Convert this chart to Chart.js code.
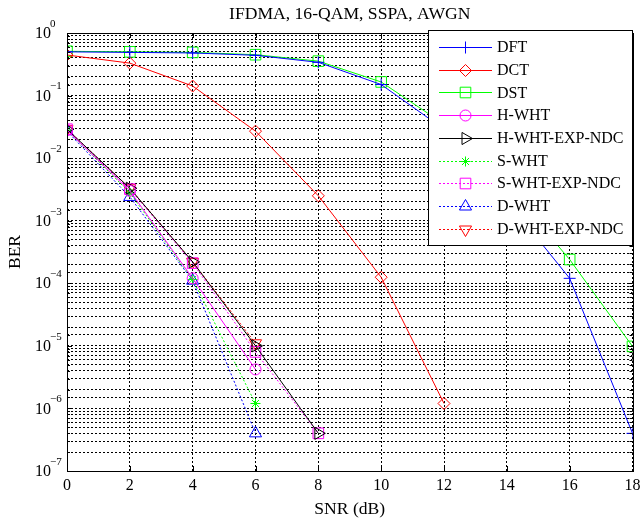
<!DOCTYPE html>
<html><head><meta charset="utf-8">
<script src="https://cdn.jsdelivr.net/npm/chart.js@4.4.1/dist/chart.umd.min.js"></script>
<style>html,body{margin:0;padding:0;background:#fff;}canvas{display:block;}</style>
</head><body>
<canvas id="c" width="641" height="521"></canvas>
<script>
// ---- data ----
const snr = [0, 2, 4, 6, 8, 10, 12, 14, 16, 18];
const berDFT        = [0.50, 0.49, 0.48, 0.44, 0.34, 0.15, 0.029, 2.1e-3, 1.2e-4, 4.0e-7];
const berDCT        = [0.445, 0.33, 0.142, 0.027, 2.5e-3, 1.25e-4, 1.2e-6, null, null, null];
const berDST        = [0.51, 0.50, 0.49, 0.45, 0.355, 0.165, 0.035, 3.6e-3, 2.4e-4, 9.8e-6];
const berHWHT       = [0.028, 3.0e-3, 1.2e-4, 4.2e-6, null, null, null, null, null, null];
const berHWHTEXPNDC = [0.029, 3.3e-3, 2.2e-4, 1.0e-5, 4.0e-7, null, null, null, null, null];
const berSWHT       = [0.028, 2.8e-3, 1.15e-4, 1.2e-6, null, null, null, null, null, null];
const berSWHTEXPNDC = [0.029, 3.2e-3, 2.1e-4, 8.0e-6, 4.0e-7, null, null, null, null, null];
const berDWHT       = [0.027, 2.4e-3, 1.1e-4, 4.0e-7, null, null, null, null, null, null];
const berDWHTEXPNDC = [0.029, 3.3e-3, 2.2e-4, 1.1e-5, null, null, null, null, null, null];
const seriesNames = ['DFT','DCT','DST','H-WHT','H-WHT-EXP-NDC','S-WHT','S-WHT-EXP-NDC','D-WHT','D-WHT-EXP-NDC'];
const xTickValues = [0, 2, 4, 6, 8, 10, 12, 14, 16, 18];
const yDecadeExponents = [0, -1, -2, -3, -4, -5, -6, -7];
const titleText = 'IFDMA, 16-QAM, SSPA, AWGN';
const xTitleText = 'SNR (dB)';
const yTitleText = 'BER';

// ---- styles ----
const seriesValues = [berDFT, berDCT, berDST, berHWHT, berHWHTEXPNDC, berSWHT, berSWHTEXPNDC, berDWHT, berDWHTEXPNDC];
const styles = [
  {c:'#0000ff', dash:[],    ps:'cross',    r:6,   rot:0},
  {c:'#ff0000', dash:[],    ps:'rectRot',  r:6,   rot:0},
  {c:'#00ff00', dash:[],    ps:'rect',     r:7.5, rot:0},
  {c:'#ff00ff', dash:[],    ps:'circle',   r:5.5, rot:0},
  {c:'#000000', dash:[],    ps:'triangle', r:7,   rot:90},
  {c:'#00ff00', dash:[2,2], ps:'star',     r:5,   rot:0},
  {c:'#ff00ff', dash:[2,2], ps:'rect',     r:7.5, rot:0},
  {c:'#0000ff', dash:[2,2], ps:'triangle', r:7,   rot:0},
  {c:'#ff0000', dash:[2,2], ps:'triangle', r:7,   rot:180}
];
const FONT = "'Liberation Serif', 'Times New Roman', serif";

const datasets = seriesNames.map((name, i) => ({
  label: name,
  data: snr.map((x, j) => ({x: x, y: seriesValues[i][j]})).filter(p => p.y !== null),
  borderColor: styles[i].c,
  backgroundColor: 'rgba(0,0,0,0)',
  borderWidth: 1,
  borderDash: styles[i].dash,
  pointStyle: styles[i].ps,
  pointRadius: styles[i].r,
  pointRotation: styles[i].rot,
  pointBorderColor: styles[i].c,
  pointBackgroundColor: 'rgba(0,0,0,0)',
  pointBorderWidth: 1,
  tension: 0,
  fill: false
}));

function drawMarker(ctx, st, x, y) {
  ctx.save();
  ctx.setLineDash([]);
  ctx.strokeStyle = st.c;
  ctx.fillStyle = 'rgba(0,0,0,0)';
  ctx.lineWidth = 1;
  if (Chart.helpers && Chart.helpers.drawPoint) {
    Chart.helpers.drawPoint(ctx, {pointStyle: st.ps, radius: st.r, rotation: st.rot, borderWidth: 1}, x, y);
  }
  ctx.restore();
}

const decor = {
  id: 'decor',
  afterDraw(chart) {
    const ctx = chart.ctx;
    const a = chart.chartArea;
    const xs = chart.scales.x, ys = chart.scales.y;
    ctx.save();
    // box
    ctx.setLineDash([]);
    ctx.strokeStyle = '#000';
    ctx.lineWidth = 1;
    ctx.strokeRect(Math.round(a.left) + 0.5, Math.round(a.top) + 0.5, Math.round(a.right - a.left), Math.round(a.bottom - a.top));
    // tick marks
    ctx.beginPath();
    xTickValues.forEach(v => {
      const px = Math.round(xs.getPixelForValue(v)) + 0.5;
      ctx.moveTo(px, a.bottom); ctx.lineTo(px, a.bottom - 5);
      ctx.moveTo(px, a.top); ctx.lineTo(px, a.top + 5);
    });
    ys.ticks.forEach(t => {
      const py = Math.round(ys.getPixelForValue(t.value)) + 0.5;
      const e = Math.log10(t.value);
      const len = Math.abs(e - Math.round(e)) < 1e-9 ? 5 : 3;
      ctx.moveTo(a.left, py); ctx.lineTo(a.left + len, py);
      ctx.moveTo(a.right, py); ctx.lineTo(a.right - len, py);
    });
    ctx.stroke();
    // y tick labels 10^k
    ctx.fillStyle = '#000';
    ctx.textBaseline = 'middle';
    ctx.textAlign = 'left';
    yDecadeExponents.forEach(k => {
      const py = ys.getPixelForValue(Math.pow(10, k));
      ctx.font = '16px ' + FONT;
      const bx = 35;
      ctx.fillText('10', bx, py + 1);
      const w = ctx.measureText('10').width;
      ctx.font = '11px ' + FONT;
      ctx.fillText(k === 0 ? '0' : '\u2212' + (-k), bx + w - 1, py - 9);
    });
    // title
    ctx.font = '17.6px ' + FONT;
    ctx.textAlign = 'center';
    ctx.fillText(titleText, (a.left + a.right) / 2, 14);
    // legend
    const lx0 = 428, ly0 = 30, lx1 = 632, ly1 = 245;
    ctx.fillStyle = '#fff';
    ctx.fillRect(lx0, ly0, lx1 - lx0, ly1 - ly0);
    ctx.strokeStyle = '#000';
    ctx.lineWidth = 1;
    ctx.strokeRect(lx0 + 0.5, ly0 + 0.5, lx1 - lx0, ly1 - ly0);
    seriesNames.forEach((name, i) => {
      const st = styles[i];
      const y = 47 + i * 22.7;
      ctx.save();
      ctx.strokeStyle = st.c;
      ctx.lineWidth = 1;
      ctx.setLineDash(st.dash);
      ctx.beginPath();
      ctx.moveTo(439, Math.round(y) + 0.5);
      ctx.lineTo(492, Math.round(y) + 0.5);
      ctx.stroke();
      ctx.restore();
      drawMarker(ctx, st, 465.5, Math.round(y) + 0.5);
      ctx.fillStyle = '#000';
      ctx.font = '16px ' + FONT;
      ctx.textAlign = 'left';
      ctx.textBaseline = 'middle';
      ctx.fillText(name, 497, y + 1);
    });
    ctx.restore();
  }
};

new Chart(document.getElementById('c'), {
  type: 'line',
  data: { datasets: datasets },
  plugins: [decor],
  options: {
    responsive: false,
    animation: false,
    devicePixelRatio: 1,
    layout: { padding: { top: 33, right: 8, left: 0, bottom: 0 } },
    plugins: { legend: { display: false }, title: { display: false }, tooltip: { enabled: false } },
    scales: {
      x: {
        type: 'linear', min: 0, max: 18,
        afterFit(s) { s.height = 50; s.paddingLeft = 0; s.paddingRight = 0; },
        afterBuildTicks(s) { s.ticks = xTickValues.map(v => ({value: v})); },
        ticks: { color: '#000', font: { family: FONT, size: 16 }, padding: 5, maxRotation: 0 },
        grid: { color: '#000', lineWidth: 1, drawTicks: false },
        border: { display: false, dash: [2, 2] },
        title: { display: true, text: xTitleText, color: '#000', font: { family: FONT, size: 17.6 }, padding: { top: 0, bottom: 1 } }
      },
      y: {
        type: 'logarithmic', min: 1e-7, max: 1,
        afterFit(s) { s.width = 67; s.paddingTop = 0; s.paddingBottom = 0; },
        ticks: { display: false },
        grid: { color: '#000', lineWidth: 1, drawTicks: false },
        border: { display: false, dash: [2, 2] },
        title: { display: true, text: yTitleText, color: '#000', font: { family: FONT, size: 17.6 }, padding: { top: 5, bottom: 0 } }
      }
    }
  }
});
</script>
</body></html>
